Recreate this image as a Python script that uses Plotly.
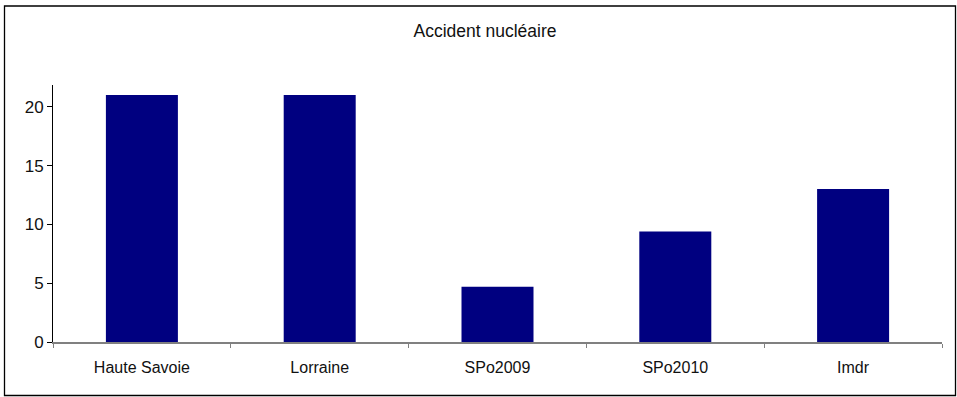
import plotly.graph_objects as go

categories = ["Haute Savoie", "Lorraine", "SPo2009", "SPo2010", "Imdr"]
values = [21, 21, 4.7, 9.4, 13]
y_ticks = [0, 5, 10, 15, 20]

W, H = 957, 397
left, right, top, bottom = 53, 942, 85, 342

fig = go.Figure(
    go.Bar(
        x=categories,
        y=values,
        marker=dict(color="#000080", line=dict(width=0)),
        width=0.405,
    )
)

# Outer frame around the whole chart, placed in paper coordinates
pw, ph = right - left, bottom - top
def px_x(x):
    return (x - left) / pw
def px_y(y):
    return (bottom - y) / ph

fig.add_shape(
    type="rect", xref="paper", yref="paper",
    x0=px_x(4.5), x1=px_x(955.5), y0=px_y(395.5), y1=px_y(6),
    line=dict(color="black", width=1.3), fillcolor="rgba(0,0,0,0)",
    layer="below",
)

fig.update_layout(
    width=W, height=H,
    margin=dict(l=left, r=W - right, t=top, b=H - bottom, pad=0),
    paper_bgcolor="white", plot_bgcolor="white",
    font=dict(family="Liberation Sans, Arial, sans-serif", size=16, color="#111111"),
    title=dict(
        text="Accident nucléaire", x=485 / W, xanchor="center",
        y=1 - 31 / H, yanchor="middle", font=dict(size=17.5),
    ),
    showlegend=False,
    bargap=0.6,
)
fig.update_xaxes(
    showline=True, linecolor="#808080", linewidth=2,
    ticks="outside", tickson="boundaries", ticklen=4, tickcolor="#808080",
    tickwidth=1, showgrid=False, zeroline=False,
    tickfont=dict(size=16), ticklabelstandoff=10, fixedrange=True,
)
fig.update_yaxes(
    range=[0, 21.85], tickvals=y_ticks,
    showline=True, linecolor="black", linewidth=1,
    ticks="outside", ticklen=5, tickcolor="black",
    showgrid=False, zeroline=False, tickfont=dict(size=17), fixedrange=True,
)

fig.write_html("out.html", config={"displayModeBar": False})
